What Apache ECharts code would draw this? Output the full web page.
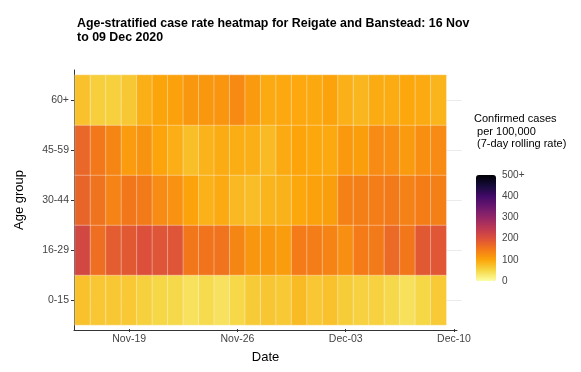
<!DOCTYPE html>
<html>
<head>
<meta charset="utf-8">
<script src="https://cdn.jsdelivr.net/npm/echarts@6/dist/echarts.min.js"></script>
<style>
  html, body { margin: 0; padding: 0; background: #fff; }
  #chart { width: 581px; height: 372px; }
</style>
</head>
<body>
<div id="chart"></div>
<script>
// ---- data ----
var dates = ['Nov-16','Nov-17','Nov-18','Nov-19','Nov-20','Nov-21','Nov-22','Nov-23','Nov-24','Nov-25',
             'Nov-26','Nov-27','Nov-28','Nov-29','Nov-30','Dec-01','Dec-02','Dec-03','Dec-04','Dec-05',
             'Dec-06','Dec-07','Dec-08','Dec-09','Dec-10'];
var dateTickLabels = ['Nov-19','Nov-26','Dec-03','Dec-10'];
var ageGroups = ['0-15','16-29','30-44','45-59','60+'];

var rate0to15  = [71,66,65,64,57,50,48,38,45,37,49,62,67,64,78,66,72,61,56,56,48,39,50,63];
var rate16to29 = [218,162,185,190,202,195,195,152,155,157,134,117,115,109,147,144,137,125,147,148,168,152,190,192];
var rate30to44 = [175,157,138,152,148,129,121,102,88,94,80,76,84,87,98,105,108,141,142,145,148,139,145,142];
var rate45to59 = [172,150,134,110,120,101,91,74,86,93,92,90,79,94,101,98,96,113,108,129,125,112,124,129];
var rate60plus = [72,58,57,65,90,100,105,114,115,118,130,112,94,97,97,96,102,89,83,93,93,98,94,85];

var legendTicks = [0,100,200,300,400,500];
var legendTickLabels = ['0','100','200','300','400','500+'];
var infernoReversed = ['#fcffa4','#f6d746','#fca50a','#f37819','#dd513a','#bc3754',
                       '#932667','#6a176e','#420a68','#160b39','#000004'];

// ---- build ----
var rows = [rate0to15, rate16to29, rate30to44, rate45to59, rate60plus];
var heatData = [];
rows.forEach(function (vals, yi) {
  vals.forEach(function (v, xi) { heatData.push([xi, yi, v]); });
});
var FONT = "'Liberation Sans', Arial, sans-serif";
var showDateTick = function (i) { return dateTickLabels.indexOf(dates[i]) >= 0; };
var helperCats = [];
for (var k = 0; k <= ageGroups.length * 2; k++) helperCats.push(String(k));

var chart = echarts.init(document.getElementById('chart'), null, { renderer: 'canvas' });
chart.setOption({
  animation: false,
  backgroundColor: '#ffffff',
  textStyle: { fontFamily: FONT },
  title: [
    {
      text: 'Age-stratified case rate heatmap for Reigate and Banstead: 16 Nov\nto 09 Dec 2020',
      left: 77, top: 16, padding: 0,
      textStyle: { fontFamily: FONT, fontSize: 12.4, fontWeight: 'bold', color: '#000', lineHeight: 14.5 }
    },
    {
      text: 'Confirmed cases\n per 100,000\n (7-day rolling rate)',
      left: 474, top: 113, padding: 0,
      textStyle: { fontFamily: FONT, fontSize: 11, fontWeight: 'normal', color: '#000', lineHeight: 12.5 }
    }
  ],
  grid: [
    { left: 75, top: 75, width: 386.75, height: 250 },
    { left: 74, top: 70, width: 383, height: 260 },
    { left: 476, top: 175, width: 20, height: 106 }
  ],
  xAxis: [
    {
      gridIndex: 0, type: 'category', data: dates, position: 'bottom', offset: 4,
      axisLine: { show: false },
      axisTick: { show: true, alignWithLabel: true, interval: showDateTick, length: 3, lineStyle: { color: '#333' } },
      axisLabel: { interval: showDateTick, fontSize: 10.5, color: '#444', margin: 5, fontFamily: FONT },
      splitLine: { show: false }
    },
    {
      gridIndex: 1, type: 'value', min: 0, max: 1,
      axisLine: { show: true, lineStyle: { color: '#333', width: 1 } },
      axisTick: { show: false }, axisLabel: { show: false }, splitLine: { show: false },
      name: 'Date', nameLocation: 'middle', nameGap: 21,
      nameTextStyle: { fontSize: 13, color: '#000', fontFamily: FONT }
    },
    { gridIndex: 2, type: 'value', min: 0, max: 1, show: false }
  ],
  yAxis: [
    {
      gridIndex: 0, type: 'category', data: ageGroups, position: 'left', offset: 1,
      axisLine: { show: false },
      axisTick: { show: true, alignWithLabel: true, length: 3, lineStyle: { color: '#333' } },
      axisLabel: { fontSize: 10.5, color: '#444', margin: 5, fontFamily: FONT },
      splitLine: { show: false }
    },
    {
      gridIndex: 0, type: 'category', data: helperCats, boundaryGap: false, position: 'right',
      axisLine: { show: false }, axisTick: { show: false }, axisLabel: { show: false },
      splitLine: { show: true, interval: function (i) { return i % 2 === 1; }, lineStyle: { color: '#ebebeb', width: 1 } }
    },
    {
      gridIndex: 1, type: 'value', min: 0, max: 1,
      axisLine: { show: true, lineStyle: { color: '#333', width: 1 } },
      axisTick: { show: false }, axisLabel: { show: false }, splitLine: { show: false },
      name: 'Age group', nameLocation: 'middle', nameGap: 48, nameRotate: 90,
      nameTextStyle: { fontSize: 13, color: '#000', fontFamily: FONT }
    },
    {
      gridIndex: 2, type: 'value', min: 0, max: 500, interval: 100, position: 'right',
      axisLine: { show: false },
      axisTick: { show: true, inside: true, length: 4, lineStyle: { color: '#fff', width: 1 } },
      axisLabel: {
        show: true, fontSize: 10, color: '#444', margin: 6, fontFamily: FONT,
        formatter: function (v) { var i = legendTicks.indexOf(v); return i >= 0 ? legendTickLabels[i] : ''; }
      },
      splitLine: { show: false }
    },
    {
      gridIndex: 2, type: 'value', min: 0, max: 500, interval: 100, position: 'left',
      axisLine: { show: false },
      axisTick: { show: true, inside: true, length: 4, lineStyle: { color: '#fff', width: 1 } },
      axisLabel: { show: false }, splitLine: { show: false }
    }
  ],
  visualMap: {
    type: 'continuous', min: 0, max: 500, seriesIndex: 0,
    left: 476, top: 175, itemWidth: 20, itemHeight: 106, padding: 0,
    calculable: false, hoverLink: false, realtime: false,
    inRange: { color: infernoReversed }
  },
  series: [{
    type: 'heatmap', xAxisIndex: 0, yAxisIndex: 0, data: heatData,
    itemStyle: { borderColor: 'rgba(255,255,255,0.35)', borderWidth: 1 },
    emphasis: { disabled: true }
  }]
});
</script>
</body>
</html>
